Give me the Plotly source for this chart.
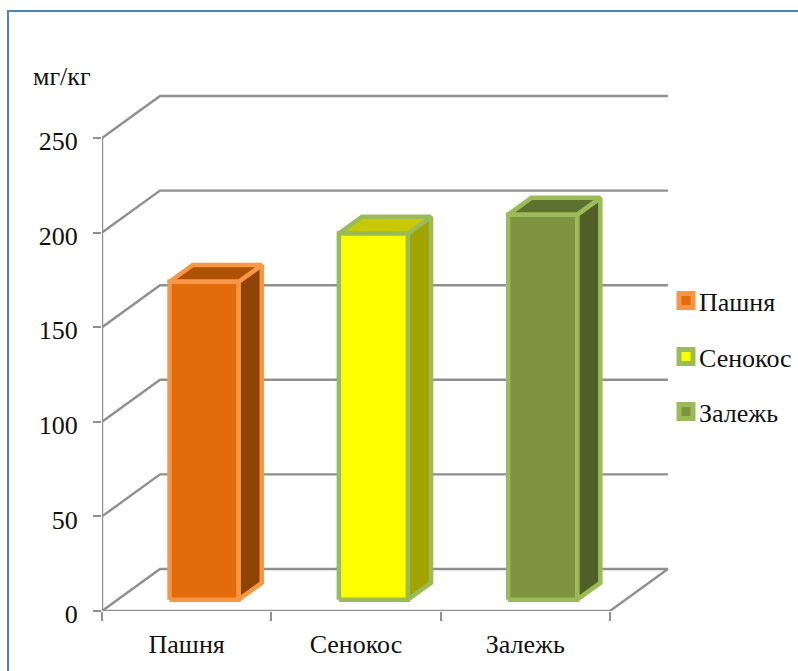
import plotly.graph_objects as go

# Data
categories = ["Пашня", "Сенокос", "Залежь"]
values = [168, 193.5, 203.5]
y_ticks = [0, 50, 100, 150, 200, 250]

# Bar colours: front, side, top, outline
front_colors = ["#E36C0A", "#FFFF00", "#7F943F"]
side_colors = ["#8F4405", "#A3A300", "#4F5F27"]
top_colors = ["#AD5205", "#C9C900", "#5E722F"]
edge_colors = ["#F79646", "#9BBB59", "#9BBB59"]

GRID = "#8F8F8F"
TEXT = "#111111"
FONT = "Liberation Serif"
FONT_SIZE = 26

# Canvas and plot area, in pixels
W, H = 798, 671
LEFT, BOTTOM = 102, 611          # origin of the front plane
PX_PER_CAT = 169.3
PX_PER_UNIT = 1.892
TOP_MARGIN = 8

# Oblique projection: how far one full step into the depth moves a point
DEPTH_X = 58 / PX_PER_CAT
DEPTH_Y = 42 / PX_PER_UNIT
BAR_WIDTH = 69 / PX_PER_CAT
BAR_DEPTH = 0.40                 # share of the floor depth taken by a bar
BAR_START = 0.30                 # depth at which the bar's front face sits

# Legend placement, in pixels
LEGEND_X = 686
LEGEND_TEXT_X = 699
LEGEND_ROWS = [300.5, 356.5, 411.5]
LEGEND_TEXT_DROP = 4


def project(x, y, d):
    return x + d * DEPTH_X, y + d * DEPTH_Y


def poly(points, fill, line_color, width):
    xs, ys = zip(*points)
    return go.Scatter(
        x=list(xs) + [xs[0]], y=list(ys) + [ys[0]], mode="lines", fill="toself",
        fillcolor=fill, line=dict(color=line_color, width=width),
        hoverinfo="skip", showlegend=False,
    )


def line(points, width=2.4):
    xs, ys = zip(*points)
    return go.Scatter(
        x=xs, y=ys, mode="lines", line=dict(color=GRID, width=width),
        hoverinfo="skip", showlegend=False,
    )


fig = go.Figure()

n = len(categories)

# Back wall gridlines, their diagonals along the left wall, and the floor
for v in y_ticks:
    fig.add_trace(line([project(0, v, 0), project(0, v, 1), project(n, v, 1)]))
fig.add_trace(line([project(n, 0, 1), project(n, 0, 0)]))

# Left spine and front edge of the floor
fig.add_trace(line([(0, 0), (0, y_ticks[-1])]))
fig.add_trace(line([(0, 0), (n, 0)]))

# Bars, each made of a side, top and front face
for i, val in enumerate(values):
    x0 = i + 0.5 - BAR_WIDTH / 2
    x1 = x0 + BAR_WIDTH
    d0, d1 = BAR_START, BAR_START + BAR_DEPTH
    base = -(BAR_START - 0.27) * DEPTH_Y  # keeps the foot of the bar on the floor line
    edge = edge_colors[i]
    fig.add_trace(poly(
        [project(x1, base, d0), project(x1, base, d1), project(x1, val + base, d1), project(x1, val + base, d0)],
        side_colors[i], edge, 4.5))
    fig.add_trace(poly(
        [project(x0, val + base, d0), project(x1, val + base, d0), project(x1, val + base, d1), project(x0, val + base, d1)],
        top_colors[i], edge, 4.5))
    fig.add_trace(poly(
        [project(x0, base, d0), project(x1, base, d0), project(x1, val + base, d0), project(x0, val + base, d0)],
        front_colors[i], edge, 4.5))

# Legend column: a swatch and a label per category
for i, cat in enumerate(categories):
    fig.add_trace(go.Scatter(
        x=[(LEGEND_X - LEFT) / PX_PER_CAT], y=[(BOTTOM - LEGEND_ROWS[i]) / PX_PER_UNIT],
        mode="markers", name=cat,
        marker=dict(symbol="square", size=14, color=front_colors[i],
                    line=dict(color=edge_colors[i], width=5)),
        hoverinfo="skip", showlegend=False, cliponaxis=False,
    ))
    fig.add_trace(go.Scatter(
        x=[(LEGEND_TEXT_X - LEFT) / PX_PER_CAT],
        y=[(BOTTOM - LEGEND_ROWS[i] - LEGEND_TEXT_DROP) / PX_PER_UNIT],
        mode="text", text=[cat], textposition="middle right",
        textfont=dict(family=FONT, size=FONT_SIZE, color=TEXT),
        hoverinfo="skip", showlegend=False, cliponaxis=False,
    ))

fig.update_layout(
    width=W, height=H,
    autosize=False,
    showlegend=False,
    margin=dict(l=LEFT, r=0, t=TOP_MARGIN, b=H - BOTTOM, pad=0),
    paper_bgcolor="white", plot_bgcolor="white",
    font=dict(family=FONT, color=TEXT, size=FONT_SIZE),
    xaxis=dict(
        range=[0, (W - LEFT) / PX_PER_CAT],
        tickmode="array", tickvals=[i + 0.5 for i in range(n)], ticktext=categories,
        ticks="", showgrid=False, zeroline=False, showline=False,
        ticklabelstandoff=15,
        tickfont=dict(family=FONT, size=FONT_SIZE, color=TEXT),
        minor=dict(tickmode="array", tickvals=list(range(n + 1)), ticks="outside",
                   ticklen=9, tickcolor=GRID, tickwidth=2, showgrid=False),
    ),
    yaxis=dict(
        range=[0, (BOTTOM - TOP_MARGIN) / PX_PER_UNIT],
        tickmode="array", tickvals=y_ticks,
        ticks="outside", ticklen=8, tickcolor=GRID, tickwidth=2,
        showgrid=False, zeroline=False,
        tickfont=dict(family=FONT, size=FONT_SIZE, color=TEXT),
        ticklabelstandoff=10, ticklabelshift=3,
    ),
    annotations=[dict(
        text="мг/кг", xref="paper", yref="paper",
        x=(62 - LEFT) / (W - LEFT), y=1 - (76 - TOP_MARGIN) / (BOTTOM - TOP_MARGIN),
        xanchor="center", yanchor="middle", showarrow=False,
        font=dict(family=FONT, size=FONT_SIZE, color=TEXT),
    )],
)

# Chart frame: drawn along the left and top edges only
px = lambda x: (x - LEFT) / (W - LEFT)
py = lambda y: 1 - (y - TOP_MARGIN) / (BOTTOM - TOP_MARGIN)
fig.add_shape(
    type="path", xref="paper", yref="paper",
    path=f"M {px(8)},{py(671)} L {px(8)},{py(11)} L {px(798)},{py(11)}",
    line=dict(color="#4F81BD", width=2), layer="below",
)

fig.write_html("out.html", config=dict(displayModeBar=False))
